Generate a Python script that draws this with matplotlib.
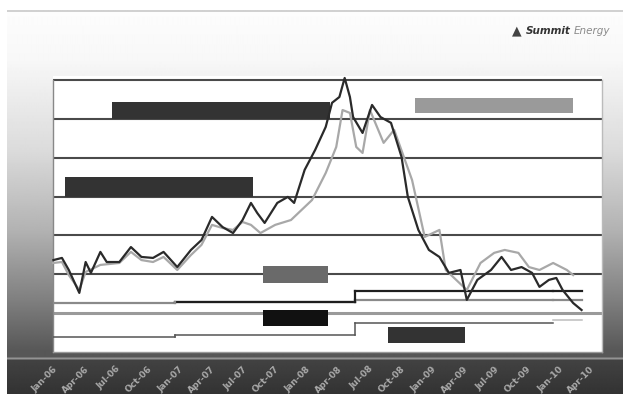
import numpy as np
import matplotlib
matplotlib.use("Agg")
import matplotlib.pyplot as plt

# ---------------- data (x in months from start, y in price units) ----------------
dark_x = [0.04, 0.85, 1.5, 2.5, 3.1, 3.6, 4.5, 5.1, 6.3, 7.4, 8.4, 9.5, 10.5, 11.8, 13.1,
          14.1, 15.1, 16.1, 17.1, 18.0, 18.8, 19.4, 20.1, 21.3, 22.3, 22.9, 23.9, 24.9,
          25.9, 26.5, 27.2, 27.7, 28.2, 28.5, 29.4, 30.3, 31.1, 32.1, 33.1, 33.7, 34.7,
          35.7, 36.7, 37.6, 38.7, 39.3, 40.3, 41.6, 42.6, 43.5, 44.5, 45.5, 46.2, 47.1,
          47.8, 48.4, 49.4, 50.2]
dark_y = [4.73, 4.84, 4.22, 3.04, 4.63, 4.07, 5.15, 4.63, 4.63, 5.40, 4.89, 4.84, 5.15, 4.37,
          5.25, 5.76, 6.95, 6.43, 6.12, 6.79, 7.67, 7.15, 6.64, 7.67, 7.98, 7.67, 9.37, 10.40,
          11.58, 12.82, 13.12, 14.10, 13.12, 12.09, 11.27, 12.71, 12.09, 11.79, 10.04, 7.98,
          6.28, 5.25, 4.89, 4.07, 4.22, 2.68, 3.71, 4.22, 4.89, 4.22, 4.37, 4.07, 3.35, 3.71,
          3.81, 3.19, 2.52, 2.16]

gray_x = [0.0, 0.85, 1.5, 2.5, 3.1, 4.5, 6.3, 7.4, 8.4, 9.5, 10.5, 11.8, 13.1, 14.1, 15.1,
          16.1, 17.1, 18.0, 18.8, 19.7, 21.1, 22.6, 24.6, 25.9, 26.9, 27.5, 28.2, 28.8,
          29.4, 30.1, 31.4, 32.4, 34.1, 35.3, 36.7, 37.3, 39.3, 40.6, 41.9, 42.9, 44.2,
          45.2, 46.2, 47.5, 48.8, 49.4]
gray_y = [4.58, 4.63, 3.96, 3.19, 4.12, 4.48, 4.58, 5.15, 4.73, 4.63, 4.89, 4.22, 4.99, 5.51,
          6.54, 6.38, 6.28, 6.69, 6.54, 6.12, 6.54, 6.79, 7.82, 9.21, 10.55, 12.45, 12.30,
          10.55, 10.24, 12.45, 10.76, 11.43, 8.85, 5.92, 6.28, 4.22, 3.19, 4.58, 5.10, 5.25,
          5.10, 4.37, 4.22, 4.58, 4.22, 3.96]

# step series: edges (months) and levels
step_edges = [0.0, 11.6, 28.7, 47.5, 50.2]
step_gray = [2.52, 2.57, 2.68, 2.68]
step_black = [None, 2.57, 3.14, 3.14]
step_thin = [0.77, 0.87, 1.49, 1.65]

# annotation bars
bar_start = [5.6, 1.1, 34.4, 19.9, 19.9, 31.8]
bar_end = [26.3, 19.0, 49.4, 26.1, 26.1, 39.1]
bar_low = [12.0, 8.0, 12.3, 3.55, 1.34, 0.46]
bar_high = [12.87, 9.0, 13.07, 4.43, 2.16, 1.29]

tick_pos = [0, 3, 6, 9, 12, 15, 18, 21, 24, 27, 30, 33, 36, 39, 42, 45, 48, 51]
tick_labels = ["Jan-06", "Apr-06", "Jul-06", "Oct-06", "Jan-07", "Apr-07", "Jul-07", "Oct-07",
               "Jan-08", "Apr-08", "Jul-08", "Oct-08", "Jan-09", "Apr-09", "Jul-09", "Oct-09",
               "Jan-10", "Apr-10"]
grid_levels = [4, 6, 8, 10, 12, 14]

# ---------------- styles ----------------
bar_colors = ["#333333", "#333333", "#9a9a9a", "#6a6a6a", "#111111", "#333333"]

W, H = 623, 394
fig = plt.figure(figsize=(W / 100, H / 100), dpi=100)
fig.patch.set_facecolor("white")

# background gradient (slide)
bg = fig.add_axes([7 / W, 0, 1 - 7 / W, 1 - 10 / H], zorder=0)
py = np.arange(10, 394)
stops_y = [10, 11, 12, 60, 150, 230, 300, 352, 356, 358, 360, 394]
stops_v = [0.82, 0.82, 0.99, 0.97, 0.86, 0.70, 0.50, 0.34, 0.34, 0.58, 0.26, 0.20]
g = np.interp(py, stops_y, stops_v)
bg.imshow(np.tile(g[:, None], (1, 4)), cmap="gray", vmin=0, vmax=1, aspect="auto",
          interpolation="bilinear", extent=[0, 1, 0, 1])
bg.axis("off")

# main axes
ax = fig.add_axes([53 / W, 1 - 352 / H, 549 / W, 276 / H], zorder=1)
ax.set_facecolor("white")
ax.set_xlim(0, 52.14)
ax.set_ylim(0, 14.2)

for lv in grid_levels:
    ax.axhline(lv, color="#4a4a4a", lw=1.5, zorder=1)
ax.axhline(2, color="#9a9a9a", lw=2.2, zorder=1)

# bars
for s, e, lo, hi, c in zip(bar_start, bar_end, bar_low, bar_high, bar_colors):
    ax.barh((lo + hi) / 2, e - s, left=s, height=hi - lo, color=c, zorder=2)

# step lines
for i in range(len(step_edges) - 1):
    x0, x1 = step_edges[i], step_edges[i + 1]
    ax.plot([x0, x1], [step_gray[i]] * 2, color="#8a8a8a", lw=1.6, zorder=3)
    if step_black[i] is not None:
        ax.plot([x0, x1], [step_black[i]] * 2, color="#1e1e1e", lw=1.6, zorder=3)
    thin_c = "#bdbdbd" if i == len(step_edges) - 2 else "#555555"
    ax.plot([x0, x1], [step_thin[i]] * 2, color=thin_c, lw=1.1, zorder=3)
for i in range(1, len(step_edges) - 2):
    xe = step_edges[i]
    ax.plot([xe, xe], [step_gray[i - 1], step_gray[i]], color="#8a8a8a", lw=1.6, zorder=3)
    if step_black[i - 1] is not None:
        ax.plot([xe, xe], [step_black[i - 1], step_black[i]], color="#1e1e1e", lw=1.6, zorder=3)
    ax.plot([xe, xe], [step_thin[i - 1], step_thin[i]], color="#555555", lw=1.1, zorder=3)

# price lines
ax.plot(gray_x, gray_y, color="#a8a8a8", lw=1.6, zorder=4, clip_on=False)
ax.plot(dark_x, dark_y, color="#2a2a2a", lw=1.6, zorder=5, clip_on=False)

ax.spines["top"].set_visible(False)
ax.spines["left"].set_bounds(0, 14)
ax.spines["right"].set_bounds(0, 14)
ax.spines["left"].set_color("#888888")
ax.spines["right"].set_color("#bbbbbb")
ax.spines["bottom"].set_color("#999999")
for sp in ax.spines.values():
    sp.set_linewidth(1.0)

ax.set_yticks([])
ax.set_xticks(tick_pos)
ax.set_xticklabels(tick_labels, rotation=45, ha="right", rotation_mode="anchor",
                   color="#a8a8a8", fontsize=6.5, fontweight="bold")
ax.tick_params(axis="x", length=0, pad=9)

# logo
fig.text(512 / W, 1 - 31 / H, "\u25B2", color="#444444", fontsize=9, va="center", ha="left")
fig.text(526 / W, 1 - 31 / H, "Summit", color="#333333", fontsize=7.5, fontweight="bold",
         style="italic", va="center", ha="left")
fig.text(574 / W, 1 - 31 / H, "Energy", color="#8a8a8a", fontsize=7.5, style="italic",
         va="center", ha="left")

fig.savefig("out.png", dpi=100)
